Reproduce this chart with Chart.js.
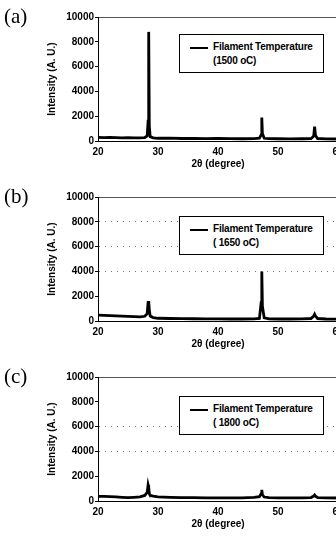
<!DOCTYPE html>
<html>
<head>
<meta charset="utf-8">
<script src="https://cdn.jsdelivr.net/npm/chart.js@4.4.0/dist/chart.umd.min.js"></script>
<style>
  html, body { margin: 0; padding: 0; background: #fff; overflow: hidden; }
  #page { position: relative; width: 336px; height: 536px; overflow: hidden; }
  .panel { position: absolute; left: 0; width: 352px; height: 180px; }
  .panel canvas { display: block; }
  .tag { position: absolute; left: 4px; top: 6px; font: 21px/1 "Liberation Serif", "DejaVu Serif", serif; color: #000; }
  .legend { position: absolute; left: 179px; top: 34px; width: 143px; height: 37px; border: 1px solid #000; background: #fff;
            font: bold 10px/14px "Liberation Sans", Arial, sans-serif; letter-spacing: -0.2px; color: #000; }
  .legend .swatch { position: absolute; left: 10px; top: 12px; width: 18px; height: 2px; background: #000; }
  .legend .l1 { position: absolute; left: 33px; top: 5px; white-space: nowrap; }
  .legend .l2 { position: absolute; left: 33px; top: 19px; white-space: nowrap; }
</style>
</head>
<body>
<div id="page">
  <div class="panel" style="top:0">
    <canvas id="chartA" width="352" height="180"></canvas>
    <div class="tag">(a)</div>
    <div class="legend"><div class="swatch"></div><div class="l1">Filament Temperature</div><div class="l2">(1500 oC)</div></div>
  </div>
  <div class="panel" style="top:180px">
    <canvas id="chartB" width="352" height="180"></canvas>
    <div class="tag">(b)</div>
    <div class="legend" style="top:36px"><div class="swatch"></div><div class="l1">Filament Temperature</div><div class="l2">( 1650 oC)</div></div>
  </div>
  <div class="panel" style="top:360px">
    <canvas id="chartC" width="352" height="180"></canvas>
    <div class="tag">(c)</div>
    <div class="legend" style="top:36px"><div class="swatch"></div><div class="l1">Filament Temperature</div><div class="l2">( 1800 oC)</div></div>
  </div>
</div>
<script>
// 2-theta sample positions (degrees)
const twoTheta = [20, 21, 22, 23, 24, 25, 26, 27, 27.8, 28.2, 28.35, 28.45, 28.55, 28.7, 29.2, 30,
  32, 34, 36, 38, 40, 42, 44, 46, 46.9, 47.2, 47.3, 47.4, 47.7, 48.5, 50, 52, 54,
  55.5, 55.95, 56.1, 56.25, 56.6, 58, 60];

const intensity1500 = [300, 280, 290, 270, 260, 270, 250, 260, 280, 400, 1600, 8800, 1200, 350, 260, 220,
  230, 200, 210, 190, 200, 190, 180, 190, 230, 500, 1900, 600, 220, 190, 180, 170, 180,
  190, 400, 1150, 450, 200, 170, 160];

const intensity1650 = [480, 450, 430, 420, 400, 380, 350, 330, 380, 600, 1500, 1600, 900, 400, 280, 220,
  200, 190, 180, 170, 170, 160, 160, 170, 200, 1500, 4000, 1200, 250, 170, 160, 160, 170,
  200, 400, 550, 400, 200, 160, 150];

const intensity1800 = [380, 370, 360, 330, 300, 280, 300, 330, 450, 700, 1300, 1100, 600, 450, 400, 330,
  300, 280, 270, 260, 250, 250, 260, 300, 350, 600, 900, 500, 320, 280, 260, 250, 260,
  280, 400, 480, 380, 280, 250, 240];

const xTicks = [20, 30, 40, 50, 60];
const yTicks = [0, 2000, 4000, 6000, 8000, 10000];

Chart.defaults.font.family = '"Liberation Sans", Arial, sans-serif';
Chart.defaults.color = '#000';

function drawPanel(id, values, dottedAt) {
  const ctx = document.getElementById(id).getContext('2d');
  return new Chart(ctx, {
    type: 'line',
    data: {
      datasets: [{
        label: 'Filament Temperature',
        data: twoTheta.map((t, i) => ({ x: t, y: values[i] })),
        borderColor: '#000',
        borderWidth: 2.8,
        pointRadius: 0,
        tension: 0,
      }],
    },
    options: {
      responsive: false,
      animation: false,
      events: [],
      layout: { padding: { top: 17, left: 46, right: 14, bottom: 8 } },
      scales: {
        x: {
          type: 'linear',
          min: 20,
          max: 60,
          afterBuildTicks: s => { s.ticks = xTicks.map(v => ({ value: v })); },
          afterFit: s => { s.height = 31; },
          grid: { display: false, drawTicks: false },
          border: { color: '#000', width: 1 },
          ticks: { font: { size: 10, weight: 'bold' }, padding: 5, maxRotation: 0, callback: v => String(v) },
          title: { display: true, text: '2θ (degree)', font: { size: 10, weight: 'bold' }, padding: { top: 0, bottom: 2 } },
        },
        y: {
          min: 0,
          max: 10000,
          afterBuildTicks: s => { s.ticks = yTicks.map(v => ({ value: v })); },
          afterFit: s => { s.width = 52; },
          grid: {
            color: c => c.tick.value === 10000 ? '#555' : (dottedAt.includes(c.tick.value) ? '#777' : 'rgba(0,0,0,0)'),
            lineWidth: 1,
            tickColor: '#000',
            tickLength: 3,
          },
          border: { color: '#000', width: 1, dash: c => (c.tick && c.tick.value === 10000) ? [] : [1, 5] },
          ticks: { font: { size: 10, weight: 'bold' }, padding: 1, callback: v => String(v) },
          title: { display: true, text: 'Intensity (A. U.)', font: { size: 10, weight: 'bold' }, padding: { top: 0, bottom: 4 } },
        },
      },
      plugins: {
        legend: { display: false },
        tooltip: { enabled: false },
      },
    },
  });
}

drawPanel('chartA', intensity1500, []);
drawPanel('chartB', intensity1650, [4000, 6000, 8000]);
drawPanel('chartC', intensity1800, [4000, 6000]);
</script>
</body>
</html>
